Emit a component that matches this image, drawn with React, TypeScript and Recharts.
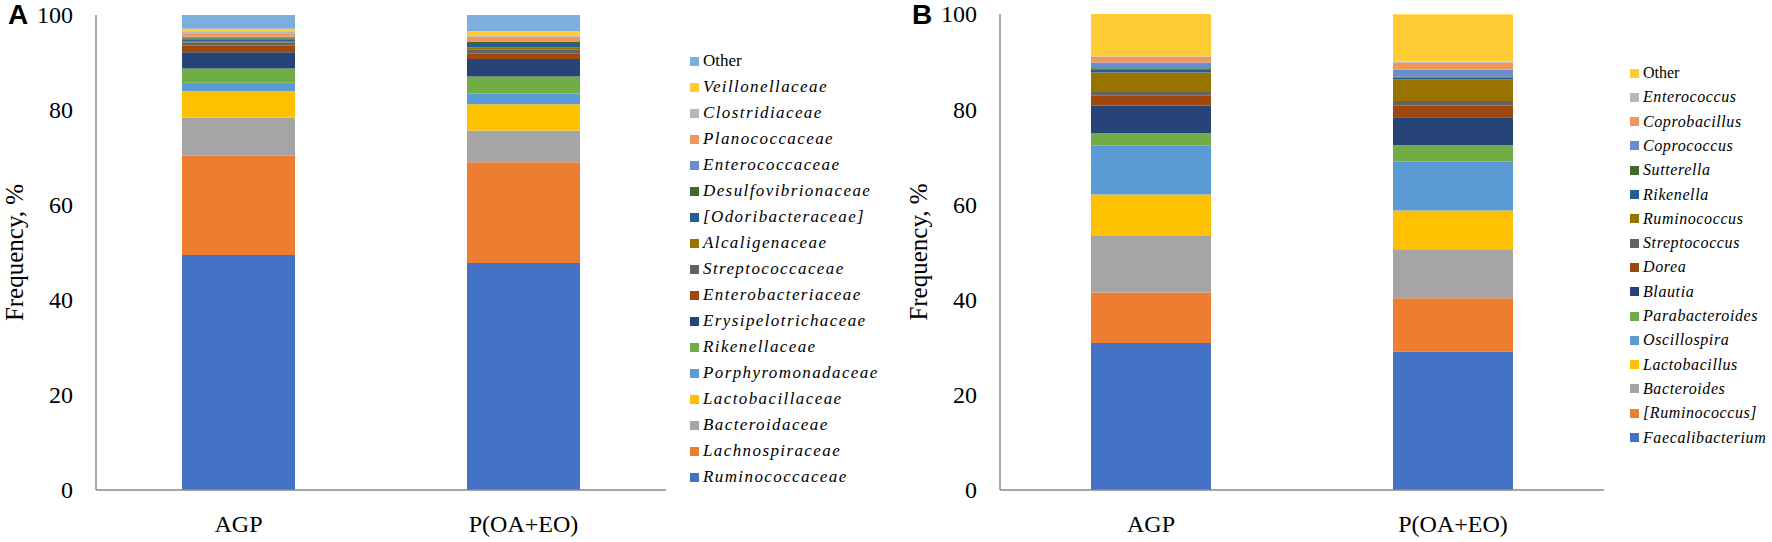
import React from "react";
import { Bar, BarChart, XAxis, YAxis } from "recharts";

const CATEGORIES = ["AGP", "P(OA+EO)"];
const Y_TICKS = [0, 20, 40, 60, 80, 100];

// Panel A — families, listed bottom of the stack to top.
const FAMILIES = [
  "Ruminococcaceae",
  "Lachnospiraceae",
  "Bacteroidaceae",
  "Lactobacillaceae",
  "Porphyromonadaceae",
  "Rikenellaceae",
  "Erysipelotrichaceae",
  "Enterobacteriaceae",
  "Streptococcaceae",
  "Alcaligenaceae",
  "[Odoribacteraceae]",
  "Desulfovibrionaceae",
  "Enterococcaceae",
  "Planococcaceae",
  "Clostridiaceae",
  "Veillonellaceae",
  "Other",
];
const FAMILY_AGP = [49.5, 20.9, 8.0, 5.6, 1.75, 3.0, 3.4, 1.4, 0.7, 0.2, 0.35, 0.3, 0.3, 0.6, 0.4, 0.7, 2.9];
const FAMILY_P = [47.8, 21.2, 6.7, 5.5, 2.25, 3.6, 3.7, 1.2, 0.85, 0.4, 0.7, 0.4, 0.2, 0.9, 0.35, 0.9, 3.35];

// Panel B — genera, bottom to top.
const GENERA = [
  "Faecalibacterium",
  "[Ruminococcus]",
  "Bacteroides",
  "Lactobacillus",
  "Oscillospira",
  "Parabacteroides",
  "Blautia",
  "Dorea",
  "Streptococcus",
  "Ruminococcus",
  "Rikenella",
  "Sutterella",
  "Coprococcus",
  "Coprobacillus",
  "Enterococcus",
  "Other",
];
const GENUS_AGP = [30.9, 10.6, 12.0, 8.6, 10.3, 2.6, 5.7, 2.1, 0.8, 4.1, 0.6, 0.3, 1.2, 1.2, 0.1, 8.9];
const GENUS_P = [29.1, 11.2, 10.3, 8.1, 10.3, 3.5, 5.8, 2.4, 1.0, 4.6, 0.35, 0.2, 1.5, 1.4, 0.2, 10.0];

// Office series order; "Other" takes whatever slot comes next.
const PALETTE = [
  "#4472C4", "#ED7D31", "#A5A5A5", "#FFC000", "#5B9BD5", "#70AD47",
  "#264478", "#9E480E", "#636363", "#997300", "#255E91", "#43682B",
  "#698ED0", "#F1975A", "#B7B7B7", "#FFCD33", "#7CAFDD",
];

const SERIF = '"Liberation Serif", "Times New Roman", serif';
const AXIS_LINE = { stroke: "#8A8A8A", strokeWidth: 1.5 };

function buildRows(names: string[], a: number[], b: number[]) {
  return CATEGORIES.map((cat, ci) => {
    const row: Record<string, string | number> = { cat };
    names.forEach((n, i) => {
      row[`s${i}`] = ci === 0 ? a[i] : b[i];
    });
    return row;
  });
}

const YTick = (props: any) => (
  <text x={props.x - 23} y={props.y} dy="0.35em" textAnchor="end" fontFamily={SERIF} fontSize={24} fill="#000">
    {props.payload.value}
  </text>
);

const XTick = (props: any) => (
  <text x={props.x} y={props.y + 42} textAnchor="middle" fontFamily={SERIF} fontSize={24} fill="#000">
    {props.payload.value}
  </text>
);

function YTitle(props: any) {
  const vb = props.viewBox || {};
  const cy = vb.y + vb.height / 2;
  return (
    <text
      x={14}
      y={cy}
      transform={`rotate(-90, 14, ${cy})`}
      textAnchor="middle"
      dominantBaseline="central"
      fontFamily={SERIF}
      fontSize={25}
      fill="#000"
    >
      Frequency, %
    </text>
  );
}

function Panel({
  letter,
  left,
  width,
  top,
  names,
  a,
  b,
  barSize,
  legend,
}: {
  letter: string;
  left: number;
  width: number;
  top: number;
  names: string[];
  a: number[];
  b: number[];
  barSize: number;
  legend: { x: number; y0: number; step: number; font: number; spacing: number };
}) {
  const data = buildRows(names, a, b);
  return (
    <div style={{ position: "absolute", left, top: 0, width: 900, height: 542 }}>
      <BarChart
        width={width}
        height={542}
        data={data}
        margin={{ top, right: 0, bottom: 0, left: 0 }}
        barCategoryGap="30%"
      >
        <XAxis
          dataKey="cat"
          height={52}
          tickLine={false}
          tickSize={0}
          tickMargin={0}
          axisLine={AXIS_LINE}
          tick={<XTick />}
        />
        <YAxis
          width={96}
          domain={[0, 100]}
          ticks={Y_TICKS}
          tickLine={false}
          tickSize={0}
          tickMargin={0}
          axisLine={AXIS_LINE}
          tick={<YTick />}
          label={<YTitle />}
        />
        {names.map((n, i) => (
          <Bar
            key={n}
            dataKey={`s${i}`}
            name={n}
            stackId="s"
            fill={PALETTE[i]}
            barSize={barSize}
            isAnimationActive={false}
          />
        ))}
      </BarChart>
      <div
        style={{
          position: "absolute",
          left: 8,
          top: 0,
          fontFamily: '"Liberation Sans", Arial, sans-serif',
          fontWeight: 700,
          fontSize: 28,
          lineHeight: "30px",
        }}
      >
        {letter}
      </div>
      {names
        .map((n, i) => ({ n, i }))
        .reverse()
        .map(({ n, i }, row) => (
          <div
            key={n}
            style={{
              position: "absolute",
              left: legend.x,
              top: legend.y0 + row * legend.step - 12,
              height: 24,
              display: "flex",
              alignItems: "center",
              whiteSpace: "nowrap",
              fontFamily: SERIF,
              fontSize: legend.font,
              letterSpacing: n === "Other" ? 0 : legend.spacing,
              fontStyle: n === "Other" ? "normal" : "italic",
            }}
          >
            <span style={{ width: 9, height: 9, background: PALETTE[i], marginRight: 4 }} />
            {n}
          </div>
        ))}
    </div>
  );
}

export default function App() {
  return (
    <div style={{ position: "absolute", left: 0, top: 0, width: 1772, height: 542, background: "#fff" }}>
      <Panel
        letter="A"
        left={0}
        width={666}
        top={15}
        names={FAMILIES}
        a={FAMILY_AGP}
        b={FAMILY_P}
        barSize={113}
        legend={{ x: 690, y0: 61, step: 26, font: 17, spacing: 1.4 }}
      />
      <Panel
        letter="B"
        left={904}
        width={700}
        top={14}
        names={GENERA}
        a={GENUS_AGP}
        b={GENUS_P}
        barSize={120}
        legend={{ x: 726, y0: 73, step: 24.3, font: 16, spacing: 0.6 }}
      />
    </div>
  );
}
